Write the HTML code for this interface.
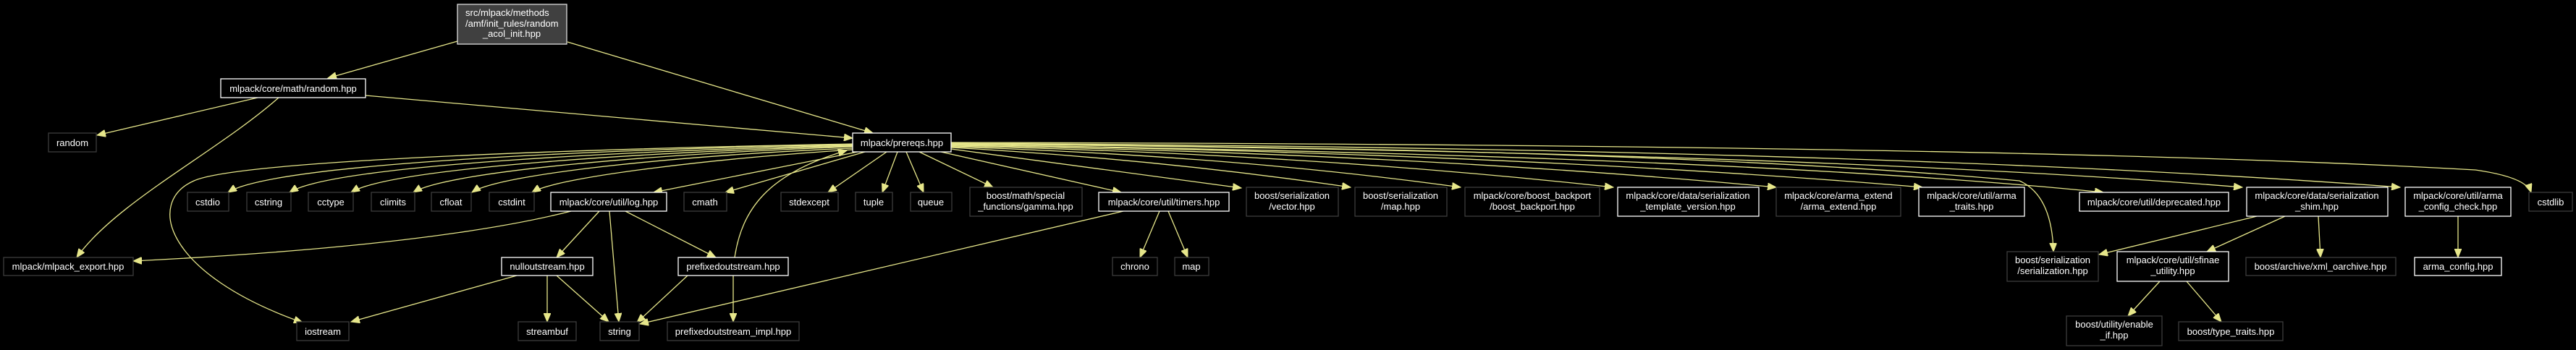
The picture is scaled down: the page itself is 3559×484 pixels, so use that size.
<!DOCTYPE html>
<html><head><meta charset="utf-8"><style>
html,body{margin:0;padding:0;background:#000;}
svg{display:block;}
text{font-family:"Liberation Sans",sans-serif;font-size:13px;fill:#fff;}
.e{fill:none;stroke:#e6e68a;stroke-width:1.3;}
.g{fill:#000;stroke:#3c3c3c;stroke-width:1.3;}
.w{fill:#000;stroke:#fff;stroke-width:1.3;}
</style></head><body>
<svg width="3559" height="484" viewBox="0 0 3559 484" xmlns="http://www.w3.org/2000/svg">
<defs><marker id="a" markerUnits="userSpaceOnUse" markerWidth="13" markerHeight="10" refX="12" refY="5" orient="auto"><path d="M0,0 L12,5 L0,10 z" fill="#e6e68a" stroke="#e6e68a"/></marker></defs>
<g class="e" marker-end="url(#a)">
<path d="M632,57 L453,108"/>
<path d="M784,58 L1206,184"/>
<path d="M356,135 L134,187"/>
<path d="M385,135 C300,210 160,280 106,356"/>
<path d="M505,132 L1178,191"/>
<path d="M1178,199 C800,206 330,222 268,250 C200,280 230,380 418,446"/>
<path d="M1178,200 C850,206 380,225 315,266"/>
<path d="M1178,201 C880,208 460,228 400,266"/>
<path d="M1178,202 C900,210 540,232 485,266"/>
<path d="M1178,203 C920,212 620,236 571,266"/>
<path d="M1178,205 C950,214 690,240 652,266"/>
<path d="M1178,207 C1000,218 770,244 735,266"/>
<path d="M1185,210 L903,266"/>
<path d="M1195,210 L1002,266"/>
<path d="M1225,210 L1144,266"/>
<path d="M1240,210 L1219,266"/>
<path d="M1252,210 L1276,266"/>
<path d="M1270,210 L1372,259"/>
<path d="M1300,210 L1549,266"/>
<path d="M1314,206 L1715,260"/>
<path d="M1314,204 Q1600,220 1866,259"/>
<path d="M1314,203 Q1700,215 2018,259"/>
<path d="M1314,202 Q1800,212 2229,259"/>
<path d="M1314,201 Q1950,212 2454,259"/>
<path d="M1314,200 Q2100,212 2656,259"/>
<path d="M1314,199 Q2300,205 2790,250 Q2835,270 2837,348"/>
<path d="M1314,200 Q2400,215 2906,266"/>
<path d="M1314,199 Q2500,210 3098,259"/>
<path d="M1314,198 Q2600,205 3316,259"/>
<path d="M1314,197 Q2800,200 3420,235 Q3490,245 3497,266"/>
<path d="M789,292 Q600,340 184,361"/>
<path d="M828,292 L769,356"/>
<path d="M842,292 L855,445"/>
<path d="M864,292 L989,356"/>
<path d="M1015,356 C1025,290 1060,240 1170,208"/>
<path d="M950,381 L880,446"/>
<path d="M1013,381 L1013,445"/>
<path d="M714,381 L485,445"/>
<path d="M756,381 L756,445"/>
<path d="M769,381 L841,445"/>
<path d="M1552,292 L884,448"/>
<path d="M1602,292 L1575,356"/>
<path d="M1614,292 L1641,356"/>
<path d="M3118,299 L2900,352"/>
<path d="M3157,299 L3049,348"/>
<path d="M3203,299 L3206,356"/>
<path d="M3396,299 L3396,356"/>
<path d="M2984,389 L2940,437"/>
<path d="M3021,389 L3069,445"/>
</g>
<rect x="632" y="6" width="151" height="55" fill="#404040" stroke="#ddd" stroke-width="1.3"/>
<text x="643" y="22">src/mlpack/methods</text>
<text x="643" y="37">/amf/init_rules/random</text>
<text x="707" y="51" text-anchor="middle">_acol_init.hpp</text>
<g text-anchor="middle">
<rect class="w" x="305" y="109" width="200" height="26"/><text x="405" y="127">mlpack/core/math/random.hpp</text>
<rect class="g" x="67" y="184" width="66" height="26"/><text x="100" y="202">random</text>
<rect class="w" x="1178" y="184" width="136" height="26"/><text x="1246" y="202">mlpack/prereqs.hpp</text>
<rect class="g" x="259" y="266" width="57" height="26"/><text x="287" y="284">cstdio</text>
<rect class="g" x="341" y="266" width="61" height="26"/><text x="371" y="284">cstring</text>
<rect class="g" x="426" y="266" width="62" height="26"/><text x="457" y="284">cctype</text>
<rect class="g" x="513" y="266" width="60" height="26"/><text x="543" y="284">climits</text>
<rect class="g" x="596" y="266" width="55" height="26"/><text x="623" y="284">cfloat</text>
<rect class="g" x="676" y="266" width="62" height="26"/><text x="707" y="284">cstdint</text>
<rect class="w" x="761" y="266" width="160" height="26"/><text x="841" y="284">mlpack/core/util/log.hpp</text>
<rect class="g" x="945" y="266" width="59" height="26"/><text x="974" y="284">cmath</text>
<rect class="g" x="1079" y="266" width="79" height="26"/><text x="1118" y="284">stdexcept</text>
<rect class="g" x="1182" y="266" width="51" height="26"/><text x="1207" y="284">tuple</text>
<rect class="g" x="1258" y="266" width="57" height="26"/><text x="1286" y="284">queue</text>
<rect class="g" x="1340" y="259" width="155" height="40"/><text x="1417" y="275">boost/math/special</text><text x="1417" y="290">_functions/gamma.hpp</text>
<rect class="w" x="1518" y="266" width="180" height="26"/><text x="1608" y="284">mlpack/core/util/timers.hpp</text>
<rect class="g" x="1722" y="259" width="127" height="40"/><text x="1785" y="275">boost/serialization</text><text x="1785" y="290">/vector.hpp</text>
<rect class="g" x="1872" y="259" width="127" height="40"/><text x="1935" y="275">boost/serialization</text><text x="1935" y="290">/map.hpp</text>
<rect class="g" x="2024" y="259" width="186" height="40"/><text x="2117" y="275">mlpack/core/boost_backport</text><text x="2117" y="290">/boost_backport.hpp</text>
<rect class="w" x="2235" y="259" width="195" height="40"/><text x="2332" y="275">mlpack/core/data/serialization</text><text x="2332" y="290">_template_version.hpp</text>
<rect class="g" x="2454" y="259" width="172" height="40"/><text x="2540" y="275">mlpack/core/arma_extend</text><text x="2540" y="290">/arma_extend.hpp</text>
<rect class="w" x="2651" y="259" width="146" height="40"/><text x="2724" y="275">mlpack/core/util/arma</text><text x="2724" y="290">_traits.hpp</text>
<rect class="w" x="2873" y="266" width="206" height="26"/><text x="2976" y="284">mlpack/core/util/deprecated.hpp</text>
<rect class="w" x="3104" y="259" width="195" height="40"/><text x="3201" y="275">mlpack/core/data/serialization</text><text x="3201" y="290">_shim.hpp</text>
<rect class="w" x="3323" y="259" width="146" height="40"/><text x="3396" y="275">mlpack/core/util/arma</text><text x="3396" y="290">_config_check.hpp</text>
<rect class="g" x="3494" y="266" width="60" height="26"/><text x="3524" y="284">cstdlib</text>
<rect class="g" x="5" y="356" width="179" height="25"/><text x="94" y="373">mlpack/mlpack_export.hpp</text>
<rect class="w" x="693" y="356" width="126" height="25"/><text x="756" y="373">nulloutstream.hpp</text>
<rect class="w" x="937" y="356" width="152" height="25"/><text x="1013" y="373">prefixedoutstream.hpp</text>
<rect class="g" x="1537" y="356" width="62" height="25"/><text x="1568" y="373">chrono</text>
<rect class="g" x="1623" y="356" width="47" height="25"/><text x="1646" y="373">map</text>
<rect class="g" x="2773" y="348" width="126" height="41"/><text x="2836" y="364">boost/serialization</text><text x="2836" y="379">/serialization.hpp</text>
<rect class="w" x="2925" y="348" width="154" height="41"/><text x="3002" y="364">mlpack/core/util/sfinae</text><text x="3002" y="379">_utility.hpp</text>
<rect class="g" x="3103" y="356" width="207" height="25"/><text x="3206" y="373">boost/archive/xml_oarchive.hpp</text>
<rect class="w" x="3336" y="356" width="120" height="25"/><text x="3396" y="373">arma_config.hpp</text>
<rect class="g" x="410" y="445" width="72" height="26"/><text x="446" y="463">iostream</text>
<rect class="g" x="716" y="445" width="80" height="26"/><text x="756" y="463">streambuf</text>
<rect class="g" x="829" y="445" width="54" height="26"/><text x="856" y="463">string</text>
<rect class="g" x="922" y="445" width="182" height="26"/><text x="1013" y="463">prefixedoutstream_impl.hpp</text>
<rect class="g" x="2855" y="437" width="132" height="41"/><text x="2921" y="453">boost/utility/enable</text><text x="2921" y="468">_if.hpp</text>
<rect class="g" x="3010" y="445" width="144" height="26"/><text x="3082" y="463">boost/type_traits.hpp</text>
</g>
</svg>
</body></html>
